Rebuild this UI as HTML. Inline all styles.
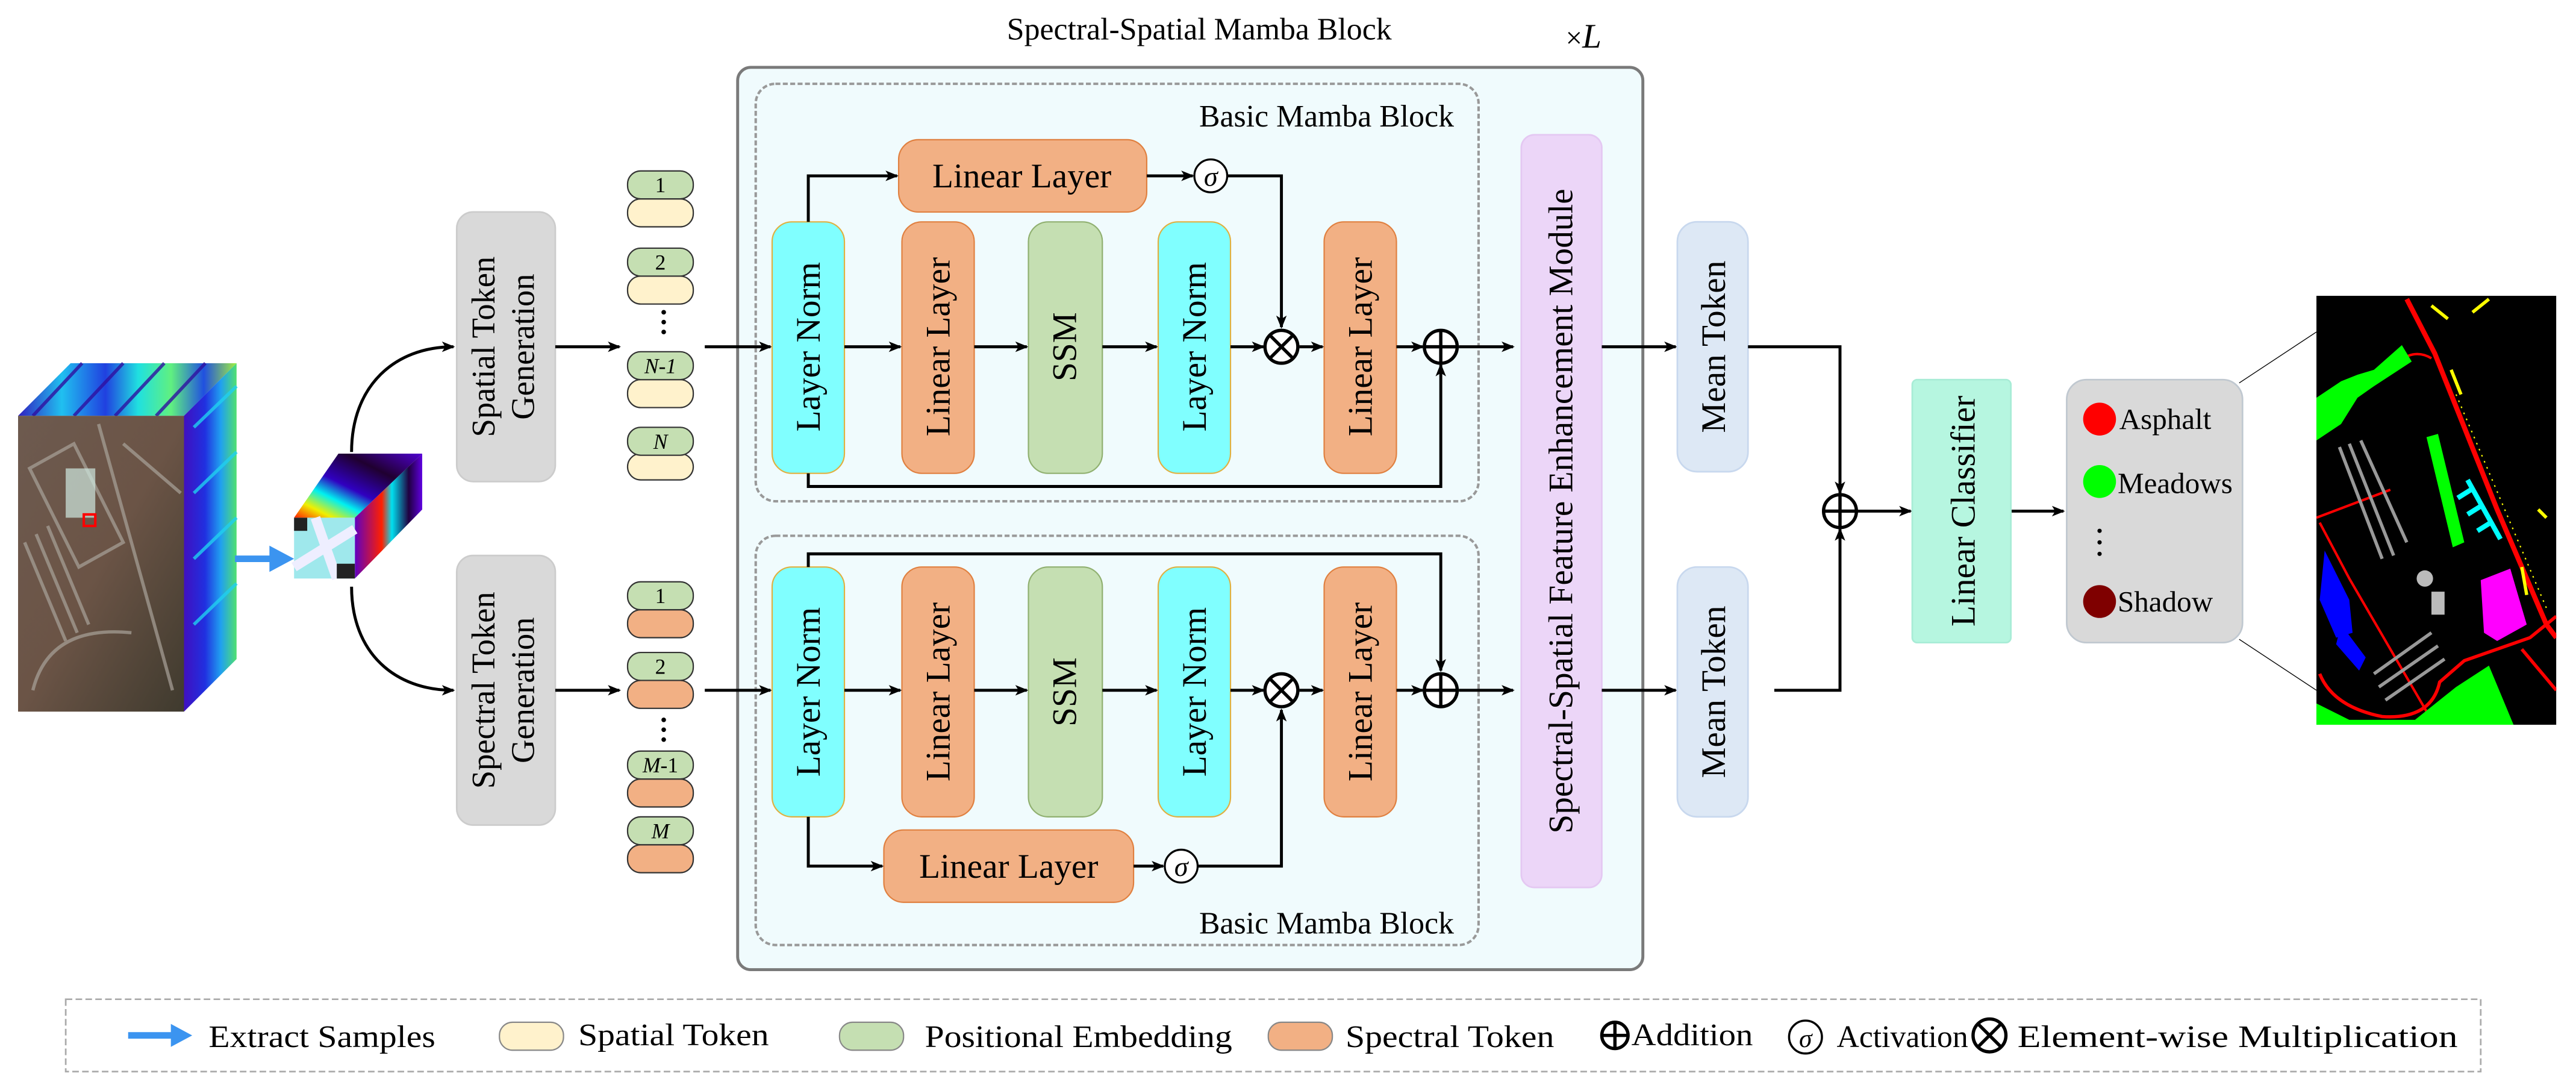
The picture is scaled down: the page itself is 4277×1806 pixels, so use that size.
<!DOCTYPE html>
<html><head><meta charset="utf-8"><style>
html,body{margin:0;padding:0;background:#fff}
svg{display:block}
svg text{font-family:"Liberation Serif","DejaVu Serif","Noto Serif CJK SC",serif;fill:#000}
</style></head><body>
<svg width="4277" height="1806" viewBox="0 0 1568 662" preserveAspectRatio="none" xmlns="http://www.w3.org/2000/svg">
<defs>
<marker id="ar" markerWidth="8" markerHeight="8" refX="7" refY="4" orient="auto" markerUnits="userSpaceOnUse"><path d="M0,0.8 L8,4 L0,7.2 L2,4 Z" fill="#000"/></marker>
<linearGradient id="topg" x1="0" y1="0" x2="1" y2="0">
<stop offset="0" stop-color="#3020c0"/><stop offset="0.2" stop-color="#20c0f0"/><stop offset="0.4" stop-color="#2040e0"/><stop offset="0.55" stop-color="#20e0e0"/><stop offset="0.7" stop-color="#60f080"/><stop offset="0.85" stop-color="#2050e0"/><stop offset="1" stop-color="#a0f040"/></linearGradient>
<linearGradient id="sideg" x1="0" y1="0" x2="1" y2="0">
<stop offset="0" stop-color="#4010c0"/><stop offset="0.4" stop-color="#2030e0"/><stop offset="0.7" stop-color="#20a0f0"/><stop offset="1" stop-color="#50e070"/></linearGradient>
<linearGradient id="frontg" x1="0" y1="0" x2="1" y2="1">
<stop offset="0" stop-color="#6d5a4f"/><stop offset="0.5" stop-color="#6b5446"/><stop offset="1" stop-color="#3f3a2e"/></linearGradient>
<linearGradient id="stop2" x1="0" y1="1" x2="1" y2="0">
<stop offset="0" stop-color="#ff2000"/><stop offset="0.15" stop-color="#f0f000"/><stop offset="0.3" stop-color="#00f0f0"/><stop offset="0.45" stop-color="#3000c0"/><stop offset="0.7" stop-color="#200030"/><stop offset="1" stop-color="#5000d0"/></linearGradient>
<linearGradient id="sside2" x1="0" y1="0" x2="1" y2="0">
<stop offset="0" stop-color="#6000c0"/><stop offset="0.4" stop-color="#ff2000"/><stop offset="0.55" stop-color="#00e0f0"/><stop offset="0.8" stop-color="#200040"/><stop offset="1" stop-color="#6000e0"/></linearGradient>
</defs>

<text x="730" y="24" font-size="19" text-anchor="middle">Spectral-Spatial Mamba Block</text>
<text x="953" y="29" font-size="18">×<tspan font-style="italic" font-size="21">L</tspan></text>

<rect x="449" y="41" width="551" height="549" rx="8" fill="#f0fbfd" stroke="#7a7a7a" stroke-width="1.8"/>
<rect x="460" y="51" width="440" height="254" rx="12" fill="none" stroke="#999" stroke-width="1.5" stroke-dasharray="3,1.5"/>
<rect x="460" y="326" width="440" height="249" rx="12" fill="none" stroke="#999" stroke-width="1.5" stroke-dasharray="3,1.5"/>
<text x="885" y="77" font-size="19" text-anchor="end">Basic Mamba Block</text>
<text x="885" y="568" font-size="19" text-anchor="end">Basic Mamba Block</text>

<polygon points="11,253 43,221 144,221 112,253" fill="url(#topg)"/>
<polygon points="112,253 144,221 144,401 112,433" fill="url(#sideg)"/>
<g stroke-width="2" opacity="0.8">
<path d="M50,221 L20,253 M75,221 L45,253 M100,221 L70,253 M125,221 L95,253" stroke="#3010a0"/>
<path d="M118,260 L144,235 M118,300 L144,275 M118,340 L144,315 M118,380 L144,355" stroke="#20d0f0"/>
</g>
<rect x="11" y="253" width="101" height="180" fill="url(#frontg)"/>
<g stroke="#a9a39a" stroke-width="2" opacity="0.7" fill="none">
<path d="M18,285 L45,270 L75,330 L48,345 Z"/><path d="M15,330 L40,390 M22,325 L47,385 M29,320 L54,380"/><path d="M20,420 Q30,380 80,385"/><path d="M60,258 L105,420"/><path d="M75,270 L110,300"/>
</g>
<rect x="40" y="285" width="18" height="30" fill="#cfe8e0" opacity="0.7"/>
<rect x="51" y="313" width="7" height="7" fill="none" stroke="#f00" stroke-width="1.5"/>
<polygon points="179,315 206,276 257,276 216,315" fill="url(#stop2)"/>
<polygon points="216,315 257,276 257,310 216,352" fill="url(#sside2)"/>
<rect x="179" y="315" width="37" height="37" fill="#9fe8ec"/>
<path d="M179,345 L216,322 M192,315 L205,352" stroke="#eef" stroke-width="6"/>
<rect x="179" y="315" width="8" height="8" fill="#222"/><rect x="205" y="343" width="11" height="9" fill="#222"/>
<line x1="143" y1="340" x2="168" y2="340" stroke="#3b94f0" stroke-width="4"/>
<polygon points="164,332 179,340 164,348" fill="#3b94f0"/>
<path d="M214,275 C214,235 240,211 276,211" fill="none" stroke="#000" stroke-width="1.8" marker-end="url(#ar)"/>
<path d="M214,357 C214,397 240,420 276,420" fill="none" stroke="#000" stroke-width="1.8" marker-end="url(#ar)"/>

<rect x="278" y="129" width="60" height="164" rx="10" fill="#d9d9d9" stroke="#ccc"/>
<text transform="translate(301,211) rotate(-90)" font-size="20" text-anchor="middle">Spatial Token</text>
<text transform="translate(325,211) rotate(-90)" font-size="20" text-anchor="middle">Generation</text>
<rect x="278" y="338" width="60" height="164" rx="10" fill="#d9d9d9" stroke="#ccc"/>
<text transform="translate(301,420) rotate(-90)" font-size="20" text-anchor="middle">Spectral Token</text>
<text transform="translate(325,420) rotate(-90)" font-size="20" text-anchor="middle">Generation</text>
<line x1="338" y1="211" x2="377" y2="211" stroke="#000" stroke-width="1.8" marker-end="url(#ar)"/>
<line x1="338" y1="420" x2="377" y2="420" stroke="#000" stroke-width="1.8" marker-end="url(#ar)"/>

<g stroke="#333" stroke-width="0.8">
<rect x="382" y="121" width="40" height="17" rx="8" fill="#fff2cc"/><rect x="382" y="104" width="40" height="17" rx="8" fill="#c5dfb2"/>
<rect x="382" y="168" width="40" height="17" rx="8" fill="#fff2cc"/><rect x="382" y="151" width="40" height="17" rx="8" fill="#c5dfb2"/>
<rect x="382" y="231" width="40" height="17" rx="8" fill="#fff2cc"/><rect x="382" y="214" width="40" height="17" rx="8" fill="#c5dfb2"/>
<rect x="382" y="276" width="40" height="16" rx="8" fill="#fff2cc"/><rect x="382" y="260" width="40" height="17" rx="8" fill="#c5dfb2"/>
<rect x="382" y="371" width="40" height="17" rx="8" fill="#f2b084"/><rect x="382" y="354" width="40" height="17" rx="8" fill="#c5dfb2"/>
<rect x="382" y="414" width="40" height="17" rx="8" fill="#f2b084"/><rect x="382" y="397" width="40" height="17" rx="8" fill="#c5dfb2"/>
<rect x="382" y="474" width="40" height="17" rx="8" fill="#f2b084"/><rect x="382" y="457" width="40" height="17" rx="8" fill="#c5dfb2"/>
<rect x="382" y="514" width="40" height="17" rx="8" fill="#f2b084"/><rect x="382" y="497" width="40" height="17" rx="8" fill="#c5dfb2"/>
</g>
<g font-size="13" text-anchor="middle">
<text x="402" y="117">1</text><text x="402" y="164">2</text>
<text x="402" y="227" font-style="italic">N-1</text><text x="402" y="273" font-style="italic">N</text>
<text x="402" y="367">1</text><text x="402" y="410">2</text>
<text x="402" y="470"><tspan font-style="italic">M</tspan>-1</text><text x="402" y="510" font-style="italic">M</text>
</g>
<g fill="#000"><circle cx="404" cy="190" r="1.4"/><circle cx="404" cy="196" r="1.4"/><circle cx="404" cy="202" r="1.4"/>
<circle cx="404" cy="438" r="1.4"/><circle cx="404" cy="444" r="1.4"/><circle cx="404" cy="450" r="1.4"/></g>
<line x1="429" y1="211" x2="469" y2="211" stroke="#000" stroke-width="1.8" marker-end="url(#ar)"/>
<line x1="429" y1="420" x2="469" y2="420" stroke="#000" stroke-width="1.8" marker-end="url(#ar)"/>

<g stroke-width="0.8">
<rect x="470" y="135" width="44" height="153" rx="12" fill="#80ffff" stroke="#e0b040"/>
<rect x="549" y="135" width="44" height="153" rx="12" fill="#f2b084" stroke="#e08040"/>
<rect x="626" y="135" width="45" height="153" rx="12" fill="#c5dfb2" stroke="#90b070"/>
<rect x="705" y="135" width="44" height="153" rx="12" fill="#80ffff" stroke="#e0b040"/>
<rect x="806" y="135" width="44" height="153" rx="12" fill="#f2b084" stroke="#e08040"/>
<rect x="547" y="85" width="151" height="44" rx="12" fill="#f2b084" stroke="#e08040"/>
<rect x="470" y="345" width="44" height="152" rx="12" fill="#80ffff" stroke="#e0b040"/>
<rect x="549" y="345" width="44" height="152" rx="12" fill="#f2b084" stroke="#e08040"/>
<rect x="626" y="345" width="45" height="152" rx="12" fill="#c5dfb2" stroke="#90b070"/>
<rect x="705" y="345" width="44" height="152" rx="12" fill="#80ffff" stroke="#e0b040"/>
<rect x="806" y="345" width="44" height="152" rx="12" fill="#f2b084" stroke="#e08040"/>
<rect x="538" y="505" width="152" height="44" rx="12" fill="#f2b084" stroke="#e08040"/>
</g>
<g font-size="21" text-anchor="middle">
<text transform="translate(499,211) rotate(-90)">Layer Norm</text>
<text transform="translate(578,211) rotate(-90)">Linear Layer</text>
<text transform="translate(655,211) rotate(-90)">SSM</text>
<text transform="translate(734,211) rotate(-90)">Layer Norm</text>
<text transform="translate(835,211) rotate(-90)">Linear Layer</text>
<text x="622" y="114">Linear Layer</text>
<text transform="translate(499,421) rotate(-90)">Layer Norm</text>
<text transform="translate(578,421) rotate(-90)">Linear Layer</text>
<text transform="translate(655,421) rotate(-90)">SSM</text>
<text transform="translate(734,421) rotate(-90)">Layer Norm</text>
<text transform="translate(835,421) rotate(-90)">Linear Layer</text>
<text x="614" y="534">Linear Layer</text>
</g>

<g stroke="#000" stroke-width="1.8" fill="none">
<line x1="514" y1="211" x2="548" y2="211" marker-end="url(#ar)"/>
<line x1="593" y1="211" x2="625" y2="211" marker-end="url(#ar)"/>
<line x1="671" y1="211" x2="704" y2="211" marker-end="url(#ar)"/>
<line x1="749" y1="211" x2="769" y2="211" marker-end="url(#ar)"/>
<line x1="791" y1="211" x2="805" y2="211" marker-end="url(#ar)"/>
<line x1="850" y1="211" x2="866" y2="211" marker-end="url(#ar)"/>
<line x1="888" y1="211" x2="921" y2="211" marker-end="url(#ar)"/>
<polyline points="492,135 492,107 546,107" marker-end="url(#ar)"/>
<line x1="698" y1="107" x2="726" y2="107" marker-end="url(#ar)"/>
<polyline points="747,107 780,107 780,199" marker-end="url(#ar)"/>
<polyline points="492,288 492,296 877,296 877,222" marker-end="url(#ar)"/>
<line x1="514" y1="420" x2="548" y2="420" marker-end="url(#ar)"/>
<line x1="593" y1="420" x2="625" y2="420" marker-end="url(#ar)"/>
<line x1="671" y1="420" x2="704" y2="420" marker-end="url(#ar)"/>
<line x1="749" y1="420" x2="769" y2="420" marker-end="url(#ar)"/>
<line x1="791" y1="420" x2="805" y2="420" marker-end="url(#ar)"/>
<line x1="850" y1="420" x2="866" y2="420" marker-end="url(#ar)"/>
<line x1="888" y1="420" x2="921" y2="420" marker-end="url(#ar)"/>
<polyline points="492,345 492,337 877,337 877,408" marker-end="url(#ar)"/>
<polyline points="492,497 492,527 537,527" marker-end="url(#ar)"/>
<line x1="690" y1="527" x2="708" y2="527" marker-end="url(#ar)"/>
<polyline points="729,527 780,527 780,432" marker-end="url(#ar)"/>
</g>
<g stroke="#000" stroke-width="2" fill="#fff">
<circle cx="780" cy="211" r="10"/><circle cx="877" cy="211" r="10"/>
<circle cx="780" cy="420" r="10"/><circle cx="877" cy="420" r="10"/>
<circle cx="1120" cy="311" r="10"/>
</g>
<g stroke="#000" stroke-width="2">
<path d="M773,204 L787,218 M787,204 L773,218"/><path d="M773,413 L787,427 M787,413 L773,427"/>
<path d="M867,211 H887 M877,201 V221"/><path d="M867,420 H887 M877,410 V430"/>
<path d="M1110,311 H1130 M1120,301 V321"/>
</g>
<g stroke="#000" stroke-width="1.2" fill="#fff"><circle cx="737" cy="107" r="10"/><circle cx="719" cy="527" r="10"/></g>
<text x="737" y="113" font-size="17" font-style="italic" text-anchor="middle">σ</text>
<text x="719" y="533" font-size="17" font-style="italic" text-anchor="middle">σ</text>

<rect x="926" y="82" width="49" height="458" rx="8" fill="#ecd6f8" stroke="#e4c8f2"/>
<text transform="translate(957,311) rotate(-90)" font-size="21" text-anchor="middle">Spectral-Spatial Feature Enhancement Module</text>
<line x1="975" y1="211" x2="1020" y2="211" stroke="#000" stroke-width="1.8" marker-end="url(#ar)"/>
<line x1="975" y1="420" x2="1020" y2="420" stroke="#000" stroke-width="1.8" marker-end="url(#ar)"/>
<rect x="1021" y="135" width="43" height="152" rx="12" fill="#dde8f5" stroke="#c8d8ee"/>
<rect x="1021" y="345" width="43" height="152" rx="12" fill="#dde8f5" stroke="#c8d8ee"/>
<text transform="translate(1050,211) rotate(-90)" font-size="21" text-anchor="middle">Mean Token</text>
<text transform="translate(1050,421) rotate(-90)" font-size="21" text-anchor="middle">Mean Token</text>
<g stroke="#000" stroke-width="1.8" fill="none">
<polyline points="1064,211 1120,211 1120,300" marker-end="url(#ar)"/>
<polyline points="1080,420 1120,420 1120,322" marker-end="url(#ar)"/>
<line x1="1130" y1="311" x2="1163" y2="311" marker-end="url(#ar)"/>
<line x1="1224" y1="311" x2="1256" y2="311" marker-end="url(#ar)"/>
</g>
<rect x="1164" y="231" width="60" height="160" rx="3" fill="#b6f6e0" stroke="#a8ecd6"/>
<text transform="translate(1202,311) rotate(-90)" font-size="21" text-anchor="middle">Linear Classifier</text>
<rect x="1258" y="231" width="107" height="160" rx="12" fill="#d9d9d9" stroke="#c0c8d0"/>
<circle cx="1278" cy="255" r="10" fill="#ff0000"/><circle cx="1278" cy="293" r="10" fill="#00ff00"/><circle cx="1278" cy="366" r="10" fill="#7f0000"/>
<g fill="#000"><circle cx="1278" cy="323" r="1.3"/><circle cx="1278" cy="330" r="1.3"/><circle cx="1278" cy="337" r="1.3"/></g>
<g font-size="18"><text x="1290" y="261">Asphalt</text><text x="1289" y="300">Meadows</text><text x="1289" y="372">Shadow</text></g>
<line x1="1363" y1="233" x2="1410" y2="202" stroke="#000" stroke-width="0.5"/>
<line x1="1363" y1="389" x2="1410" y2="420" stroke="#000" stroke-width="0.5"/>

<svg x="1410" y="180" width="146" height="261" viewBox="0 0 146 261" preserveAspectRatio="none">
<rect width="146" height="261" fill="#000"/>
<path d="M0,73 L50,40 Q60,32 70,38" fill="none" stroke="#f00" stroke-width="1.5"/>
<path d="M55,2 L72,35 L110,130 L140,200 L146,208" fill="none" stroke="#f00" stroke-width="3"/>
<path d="M0,135 L45,118 M2,138 L20,172 L70,258" fill="none" stroke="#f00" stroke-width="1.5"/>
<path d="M2,230 Q10,250 40,256 Q70,258 75,235 L90,222 L130,208 L146,195" fill="none" stroke="#f00" stroke-width="2"/>
<path d="M125,215 L146,240" stroke="#f00" stroke-width="2"/>
<polygon points="0,62 15,52 25,48 35,45 52,30 58,40 35,55 25,62 15,78 0,88" fill="#00ff00"/>
<polygon points="67,86 74,84 90,150 83,153" fill="#00ff00"/>
<polygon points="105,225 120,261 146,261 146,261 110,261 0,261 0,248 20,258 60,258 85,238" fill="#00ff00"/>
<polygon points="100,173 118,166 128,200 110,210 102,205" fill="#ff00ff"/>
<path d="M92,112 L112,148 M94,118 L86,123 M100,128 L92,133 M106,138 L98,143" stroke="#00ffff" stroke-width="3"/>
<path d="M14,92 L40,160 M20,90 L47,158 M27,88 L55,150" stroke="#999" stroke-width="2"/>
<circle cx="66" cy="172" r="5" fill="#bbb"/><rect x="70" y="180" width="8" height="14" fill="#bbb"/>
<polygon points="5,155 20,185 22,205 12,208 2,185" fill="#0000ff"/>
<polygon points="15,200 30,220 26,228 12,212" fill="#0000ff"/>
<path d="M35,230 L70,205 M38,238 L74,213 M42,246 L78,221" stroke="#999" stroke-width="2"/>
<path d="M70,6 L80,14 M82,45 L88,60 M125,165 L128,182 M95,10 L105,2 M135,130 L140,135" stroke="#ff0" stroke-width="2"/>
<path d="M85,60 L140,190" stroke="#ff0" stroke-width="0.8" stroke-dasharray="1,3"/>
</svg>

<rect x="40" y="608" width="1470" height="44" fill="none" stroke="#aaa" stroke-width="1" stroke-dasharray="4,2"/>
<line x1="78" y1="630" x2="108" y2="630" stroke="#3b94f0" stroke-width="4"/>
<polygon points="104,623 117,630 104,637" fill="#3b94f0"/>
<g font-size="19">
<text x="127" y="637" textLength="138" lengthAdjust="spacingAndGlyphs">Extract Samples</text>
<rect x="304" y="622" width="39" height="17" rx="8" fill="#fff2cc" stroke="#888" stroke-width="0.8"/>
<text x="352" y="636" textLength="116" lengthAdjust="spacingAndGlyphs">Spatial Token</text>
<rect x="511" y="622" width="39" height="17" rx="8" fill="#c5dfb2" stroke="#888" stroke-width="0.8"/>
<text x="563" y="637" textLength="187" lengthAdjust="spacingAndGlyphs">Positional Embedding</text>
<rect x="772" y="622" width="39" height="17" rx="8" fill="#f2b084" stroke="#888" stroke-width="0.8"/>
<text x="819" y="637" textLength="127" lengthAdjust="spacingAndGlyphs">Spectral Token</text>
<text x="993" y="636" textLength="74" lengthAdjust="spacingAndGlyphs">Addition</text>
<text x="1118" y="637" textLength="80" lengthAdjust="spacingAndGlyphs">Activation</text>
<text x="1228" y="637" textLength="268" lengthAdjust="spacingAndGlyphs">Element-wise Multiplication</text>
</g>
<circle cx="983" cy="630" r="8" fill="#fff" stroke="#000" stroke-width="2"/>
<path d="M975,630 H991 M983,622 V638" stroke="#000" stroke-width="2"/>
<circle cx="1099" cy="631" r="10" fill="#fff" stroke="#000" stroke-width="1.3"/>
<text x="1099" y="637" font-size="16" font-style="italic" text-anchor="middle">σ</text>
<circle cx="1211" cy="630" r="10" fill="#fff" stroke="#000" stroke-width="2"/>
<path d="M1204,623 L1218,637 M1218,623 L1204,637" stroke="#000" stroke-width="2"/>
</svg>
</body></html>
